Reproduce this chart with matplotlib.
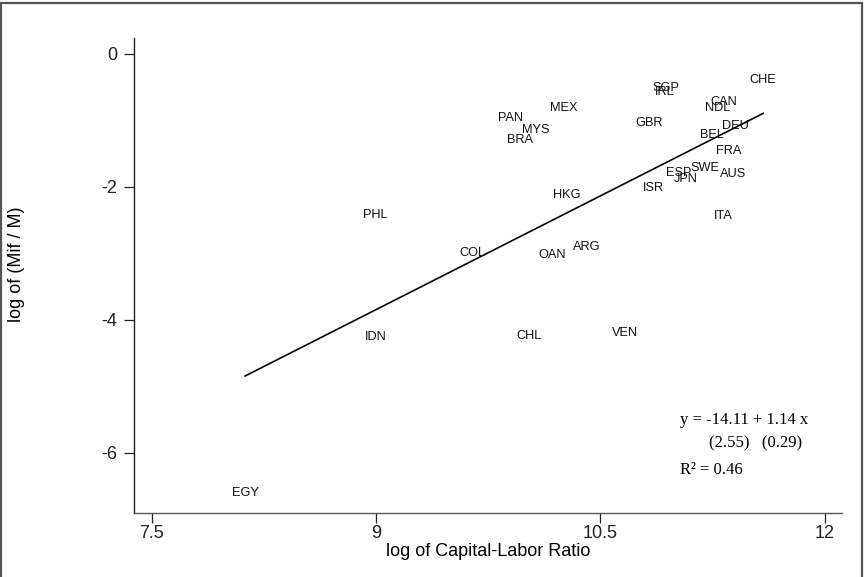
#Scatter of country codes: log of (Mif / M) against log of capital-labor ratio
import matplotlib
matplotlib.use("Agg")
import matplotlib.pyplot as plt
from matplotlib.patches import Rectangle
import numpy as np

plt.rcParams['font.family'] = ['Liberation Sans', 'DejaVu Sans']

countries = ["CHE", "SGP", "IRL", "CAN", "NDL", "MEX", "PAN", "MYS", "BRA", "GBR",
             "DEU", "BEL", "FRA", "SWE", "ESP", "JPN", "AUS", "ISR", "HKG", "ITA",
             "PHL", "COL", "OAN", "ARG", "IDN", "CHL", "VEN", "EGY"]
log_kl = [11.589, 10.941, 10.929, 11.326, 11.284, 10.254, 9.896, 10.070, 9.962, 10.828,
          11.403, 11.248, 11.358, 11.200, 11.027, 11.074, 11.390, 10.855, 10.276, 11.321,
          8.997, 9.646, 10.179, 10.410, 9.001, 10.021, 10.665, 8.124]
log_mif = [-0.398, -0.523, -0.583, -0.734, -0.815, -0.815, -0.965, -1.150, -1.301, -1.050,
           -1.090, -1.230, -1.466, -1.726, -1.801, -1.892, -1.817, -2.018, -2.128, -2.444,
           -2.429, -3.005, -3.026, -2.905, -4.268, -4.248, -4.198, -6.605]

intercept = -14.11
slope = 1.14
se_text = "(2.55)   (0.29)"
r2 = 0.46

xticks = [7.5, 9, 10.5, 12]
xtick_labels = ["7.5", "9", "10.5", "12"]
yticks = [0, -2, -4, -6]

fig = plt.figure(figsize=(8.66, 5.77), dpi=100)
ax = fig.add_axes([0.1551, 0.1114, 0.9719 - 0.1551, 0.9336 - 0.1114])

# country labels centred on the points (no markers)
for name, x, y in zip(countries, log_kl, log_mif):
    ax.text(x, y, name, ha="center", va="center", fontsize=9.2, color="#111111")

# fitted line over the data range
xs = np.array([min(log_kl), max(log_kl)])
ax.plot(xs, intercept + slope * xs, color="black", lw=1.2)

ax.set_xlim(7.383, 12.114)
ax.set_ylim(-6.905, 0.23)
ax.set_xticks(xticks)
ax.set_xticklabels(xtick_labels)
ax.set_yticks(yticks)
ax.set_yticklabels([str(t) for t in yticks])

for s in ["top", "right"]:
    ax.spines[s].set_visible(False)
ax.spines["left"].set_color("#222222")
ax.spines["bottom"].set_color("#555555")
ax.spines["left"].set_linewidth(1.0)
ax.spines["bottom"].set_linewidth(1.0)
ax.tick_params(direction="out", length=7.5, width=0.9, labelsize=13, colors="#222222")
ax.tick_params(axis="x", pad=1.2)
ax.tick_params(axis="y", pad=5)

# equation block
serif = ["Liberation Serif", "DejaVu Serif"]
ax.text(0.7713, 0.1954, "y = %.2f + %.2f x" % (intercept, slope), transform=ax.transAxes,
        ha="left", va="center", fontsize=12, family=serif)
ax.text(0.8128, 0.1469, se_text, transform=ax.transAxes,
        ha="left", va="center", fontsize=12, family=serif)
ax.text(0.7713, 0.0900, "R² = %.2f" % r2, transform=ax.transAxes,
        ha="left", va="center", fontsize=12, family=serif)

# axis titles
fig.text(488 / 866, 1 - 551.7 / 577, "log of Capital-Labor Ratio",
         ha="center", va="center", fontsize=13)
fig.text(16.7 / 866, 1 - 264 / 577, "log of (Mif / M)", rotation=90,
         ha="center", va="center", fontsize=13)

# outer frame
fig.patches.append(Rectangle((0.8 / 866, -0.05), (861.7 - 0.8) / 866, 1.05 - 2.5 / 577,
                             transform=fig.transFigure, fill=False,
                             edgecolor="#555555", lw=1.6))

fig.savefig("out.png", dpi=100)
